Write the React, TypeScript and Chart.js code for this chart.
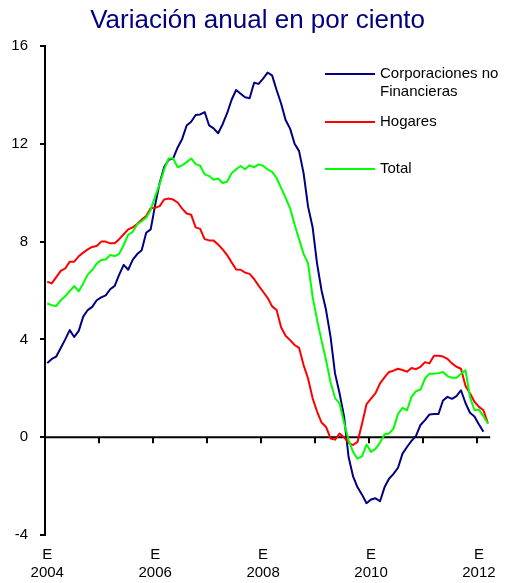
import { useEffect, useRef } from "react";
import { Chart, registerables } from "chart.js";

Chart.register(...registerables);

const FONT = "'Liberation Sans', Arial, Helvetica, sans-serif";

const titleText = "Variación anual en por ciento";
const seriesNames = [["Corporaciones no", "Financieras"], ["Hogares"], ["Total"]];
const seriesColors = ["#000080", "#FF0000", "#00FF00"];

// Monthly values, January 2004 onwards
const corporaciones = [
  3.03, 3.2, 3.3, 3.65, 4.0, 4.38, 4.1, 4.35, 4.93, 5.2,
  5.33, 5.6, 5.72, 5.8, 6.05, 6.19, 6.65, 7.05, 6.85, 7.25,
  7.49, 7.65, 8.36, 8.5, 9.5, 10.4, 11.05, 11.35, 11.4, 11.85,
  12.2, 12.75, 12.9, 13.18, 13.2, 13.3, 12.75, 12.63, 12.43, 12.8,
  13.25, 13.8, 14.2, 14.05, 13.9, 13.86, 14.5, 14.45, 14.67, 14.91,
  14.8, 14.2, 13.65, 12.97, 12.62, 12.0, 11.7, 10.8, 9.43, 8.6,
  7.1, 6.0, 5.2, 4.1, 2.6, 1.8, 0.85, -0.8, -1.6, -2.05,
  -2.35, -2.7, -2.55, -2.5, -2.62, -2.05, -1.7, -1.5, -1.25, -0.67,
  -0.4, -0.15, 0.05, 0.5, 0.7, 0.93, 0.95, 0.95, 1.5, 1.65,
  1.57, 1.68, 1.92, 1.4, 1.0, 0.85, 0.52, 0.22,
];

const hogares = [
  6.36, 6.29, 6.55, 6.8, 6.9, 7.18, 7.18, 7.4, 7.55, 7.68,
  7.78, 7.82, 8.0, 8.0, 7.93, 7.93, 8.1, 8.3, 8.5, 8.58,
  8.72, 8.9, 9.05, 9.36, 9.38, 9.45, 9.72, 9.76, 9.72, 9.6,
  9.35, 9.15, 9.1, 8.58, 8.52, 8.1, 8.05, 8.04, 7.88, 7.68,
  7.45, 7.15, 6.86, 6.85, 6.73, 6.68, 6.47, 6.2, 5.95, 5.7,
  5.35, 5.2, 4.5, 4.15, 3.97, 3.77, 3.65, 2.95, 2.4, 1.6,
  1.05, 0.6, 0.42, -0.05, -0.1, 0.15, 0.0, -0.23, -0.32, -0.19,
  0.55, 1.35, 1.58, 1.8, 2.2, 2.45, 2.67, 2.72, 2.8, 2.75,
  2.68, 2.83, 2.78, 2.88, 3.07, 3.02, 3.33, 3.33, 3.3, 3.2,
  3.02, 2.88, 2.8, 2.1, 1.8, 1.45, 1.24, 1.1, 0.56,
];

const total = [
  5.47, 5.4, 5.37, 5.6, 5.76, 5.98, 6.18, 5.97, 6.29, 6.65,
  6.84, 7.1, 7.25, 7.27, 7.45, 7.41, 7.5, 7.86, 8.28, 8.4,
  8.7, 8.83, 8.98, 9.29, 9.85, 10.35, 10.95, 11.4, 11.4, 11.04,
  11.12, 11.25, 11.4, 11.17, 11.1, 10.75, 10.68, 10.53, 10.58, 10.4,
  10.45, 10.8, 10.96, 11.09, 10.96, 11.12, 11.04, 11.16, 11.1, 10.95,
  10.85, 10.6, 10.2, 9.8, 9.36, 8.7, 8.1, 7.5, 7.11, 5.75,
  4.8, 3.95, 3.15, 2.25, 1.6, 1.38, 0.6, -0.12, -0.6, -0.88,
  -0.78, -0.3, -0.6, -0.48, -0.22, 0.12, 0.15, 0.35, 0.95, 1.2,
  1.1, 1.65, 1.88, 1.95, 2.4, 2.6, 2.6, 2.62, 2.67, 2.5,
  2.43, 2.43, 2.6, 2.74, 1.65, 1.1, 1.13, 0.86, 0.56,
];

const labelMonths = [0, 24, 48, 72, 96];
const labelYears = ["2004", "2006", "2008", "2010", "2012"];
const yearCount = 9; // 2004..2012
const yMin = -4;
const yMax = 16;
const yStep = 4;

const titlePlugin = {
  id: "customTitle",
  afterDraw(chart: any) {
    const { ctx, chartArea } = chart;
    ctx.save();
    ctx.font = `26px ${FONT}`;
    ctx.fillStyle = "#000080";
    ctx.textAlign = "center";
    ctx.textBaseline = "middle";
    ctx.fillText(titleText, (chartArea.left + chartArea.right) / 2 - 10, 20.5);
    ctx.restore();
  },
};

const zeroAxisPlugin = {
  id: "zeroAxis",
  beforeDatasetsDraw(chart: any) {
    const { ctx, chartArea, scales } = chart;
    const xs = scales.x;
    const ys = scales.y;
    const y0 = ys.getPixelForValue(0);
    ctx.save();
    ctx.strokeStyle = "#000";
    ctx.lineWidth = 2;
    ctx.beginPath();
    ctx.moveTo(chartArea.left, y0);
    ctx.lineTo(chartArea.right, y0);
    for (let k = 0; k < yearCount; k++) {
      const px = Math.round(xs.getPixelForValue(k * 12 - 0.5));
      ctx.moveTo(px, y0);
      ctx.lineTo(px, y0 + 6);
    }
    ctx.stroke();
    ctx.restore();
  },
};

const insideLegendPlugin = {
  id: "insideLegend",
  afterDraw(chart: any) {
    const { ctx, chartArea } = chart;
    const x0 = chartArea.left + 280;
    const x1 = x0 + 50;
    const tx = x1 + 5;
    const rows = [chartArea.top + 28, chartArea.top + 76, chartArea.top + 123];
    ctx.save();
    ctx.font = `15px ${FONT}`;
    ctx.textBaseline = "middle";
    ctx.textAlign = "left";
    ctx.fillStyle = "#000";
    seriesNames.forEach((lines, k) => {
      const y = rows[k];
      ctx.strokeStyle = seriesColors[k];
      ctx.lineWidth = 2;
      ctx.beginPath();
      ctx.moveTo(x0, y);
      ctx.lineTo(x1, y);
      ctx.stroke();
      lines.forEach((t, m) => ctx.fillText(t, tx, y + m * 18));
    });
    ctx.restore();
  },
};

export default function App() {
  const canvasRef = useRef<HTMLCanvasElement | null>(null);

  useEffect(() => {
    if (!canvasRef.current) return;
    const series = [corporaciones, hogares, total];
    const chart = new Chart(canvasRef.current, {
      type: "line",
      data: {
        datasets: series.map((arr, k) => ({
          label: seriesNames[k].join(" "),
          data: arr.map((v, i) => ({ x: i, y: v })),
          borderColor: seriesColors[k],
          backgroundColor: seriesColors[k],
          borderWidth: 2,
          pointRadius: 0,
          tension: 0,
          fill: false,
          borderJoinStyle: "round",
          order: 3 - k,
        })),
      },
      options: {
        animation: false,
        responsive: false,
        layout: { padding: { left: 0, right: 14, top: 46, bottom: 0 } },
        plugins: {
          legend: { display: false },
          tooltip: { enabled: false },
          title: { display: false },
        },
        scales: {
          x: {
            type: "linear",
            min: -0.5,
            max: 98.5,
            grid: { display: false, drawTicks: false },
            border: { display: false },
            afterBuildTicks: (s: any) => {
              s.ticks = labelMonths.map((v) => ({ value: v }));
            },
            afterFit: (s: any) => {
              s.height = 48;
            },
            ticks: {
              autoSkip: false,
              maxRotation: 0,
              padding: 11,
              color: "#000",
              font: { family: FONT, size: 15 },
              callback: (value: any) => {
                const k = labelMonths.indexOf(Number(value));
                return k >= 0 ? ["E", labelYears[k]] : "";
              },
            },
          },
          y: {
            min: yMin,
            max: yMax,
            grid: {
              display: true,
              drawOnChartArea: false,
              drawTicks: true,
              tickLength: 5,
              color: "#000",
              lineWidth: 2,
            },
            border: { display: true, color: "#000", width: 2 },
            afterFit: (s: any) => {
              s.width = 45;
            },
            ticks: {
              stepSize: yStep,
              padding: 12,
              color: "#000",
              font: { family: FONT, size: 15 },
            },
          },
        },
      },
      plugins: [zeroAxisPlugin, insideLegendPlugin, titlePlugin],
    } as any);
    return () => chart.destroy();
  }, []);

  return (
    <div style={{ position: "absolute", left: 0, top: 0, width: 507, height: 583, background: "#fff" }}>
      <canvas ref={canvasRef} width={507} height={583} style={{ display: "block" }} />
    </div>
  );
}
